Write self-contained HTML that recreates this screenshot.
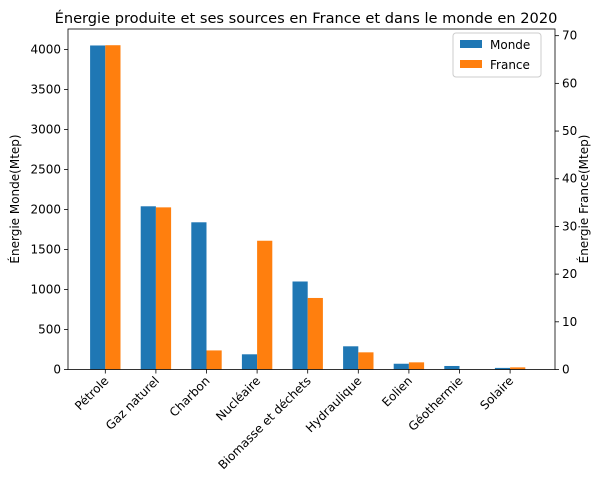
<!DOCTYPE html>
<html><head><meta charset="utf-8"><style>
body{margin:0;background:#fff;font-family:"DejaVu Sans","Liberation Sans",sans-serif;}
</style></head><body>
<svg id="c" width="600" height="487" xmlns="http://www.w3.org/2000/svg" font-family="DejaVu Sans, Liberation Sans, sans-serif">
<text x="306" y="23" text-anchor="middle" font-size="14.6">Énergie produite et ses sources en France et dans le monde en 2020</text>
<g id="bars"></g>
<rect x="68" y="29" width="487" height="340.5" fill="none" stroke="#000" stroke-width="0.8"/>
<g id="axes" font-size="12"></g>
<text transform="translate(19,199) rotate(-90)" text-anchor="middle" font-size="12">Énergie Monde(Mtep)</text>
<text transform="translate(588,199) rotate(-90)" text-anchor="middle" font-size="12">Énergie France(Mtep)</text>
<g>
<rect x="453" y="33" width="88" height="44" fill="#fff" stroke="#ccc" rx="3"/>
<rect x="460" y="40" width="22" height="8" fill="#1f77b4"/>
<text x="490" y="49" font-size="12">Monde</text>
<rect x="460" y="60" width="22" height="8" fill="#ff7f0e"/>
<text x="490" y="69" font-size="12">France</text>
</g>
</svg>
<script>
const categories=["Pétrole","Gaz naturel","Charbon","Nucléaire","Biomasse et déchets","Hydraulique","Eolien","Géothermie","Solaire"];
const monde=[4050,2040,1840,190,1100,290,72,44,20];
const france=[68,34,4,27,15,3.6,1.5,0,0.45];
const leftTicks=[0,500,1000,1500,2000,2500,3000,3500,4000];
const rightTicks=[0,10,20,30,40,50,60,70];
const NS="http://www.w3.org/2000/svg";
const y0=369.5,yTop=29,L=68,R=555;
const yL=v=>y0-v*(y0-yTop)/4256;
const yR=v=>y0-v*(y0-yTop)/71.4;
const xC=i=>105.3+i*50.6;
const bw=15.2;
function mk(t,a,p){const e=document.createElementNS(NS,t);for(const k in a)e.setAttribute(k,a[k]);p.appendChild(e);return e;}
const bars=document.getElementById('bars'),axes=document.getElementById('axes');
categories.forEach((c,i)=>{
 const b=mk('rect',{x:xC(i)-bw,y:yL(monde[i]),width:bw,height:y0-yL(monde[i]),fill:'#1f77b4'},bars);
 
 
 const f=mk('rect',{x:xC(i),y:yR(france[i]),width:bw,height:y0-yR(france[i]),fill:'#ff7f0e'},bars);
 
 
 mk('line',{x1:xC(i),x2:xC(i),y1:y0,y2:y0+4,stroke:'#000','stroke-width':0.8},axes);
 const t=mk('text',{x:xC(i)+4,y:y0+12,'text-anchor':'end',transform:`rotate(-45 ${xC(i)+4} ${y0+12})`},axes);
 t.textContent=c;
 
 
});
leftTicks.forEach(v=>{
 mk('line',{x1:L-4,x2:L,y1:yL(v),y2:yL(v),stroke:'#000','stroke-width':0.8},axes);
 const t=mk('text',{x:L-7,y:yL(v)+4,'text-anchor':'end'},axes);t.textContent=v;
 
 
});
rightTicks.forEach(v=>{
 mk('line',{x1:R,x2:R+4,y1:yR(v),y2:yR(v),stroke:'#000','stroke-width':0.8},axes);
 const t=mk('text',{x:R+7,y:yR(v)+4},axes);t.textContent=v;
 
 
});
</script>
</body></html>
